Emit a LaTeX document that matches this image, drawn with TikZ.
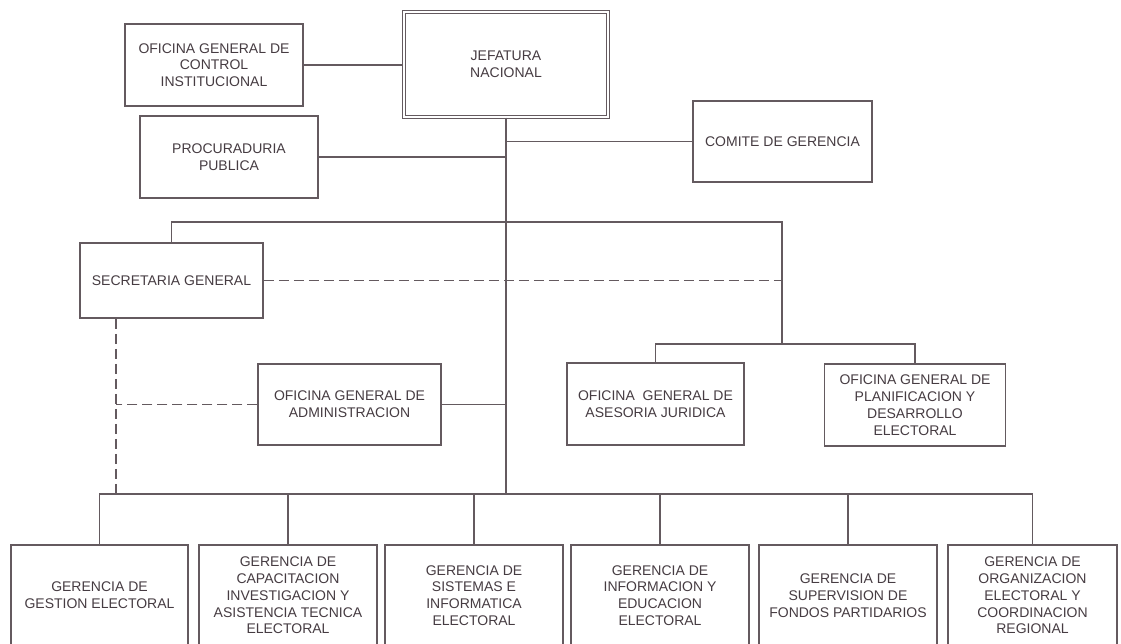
\documentclass[tikz,border=0pt]{standalone}
\usepackage{fontspec}
\setmainfont{Liberation Sans}
\definecolor{linec}{RGB}{100,90,95}
\definecolor{textc}{RGB}{70,60,66}
\begin{document}
\begin{tikzpicture}[x=1pt,y=-1pt,
  box/.style={draw=linec, line width=1.5pt, fill=white, align=center, inner sep=0pt,
    text=textc, font=\fontsize{14}{16.8}\selectfont},
  conn/.style={draw=linec, line width=1.5pt},
  dconn/.style={draw=linec, line width=1.5pt, dash pattern=on 10pt off 5pt}]
\useasboundingbox (0,0) rectangle (1121,644);
\clip (0,0) rectangle (1121,644);
\fill[white] (0,0) rectangle (1121,644);

% coordinates of bars
\coordinate (tR) at (782,222);
\coordinate (jn) at (782,344);
\coordinate (bb) at (506,494);
\coordinate (ds) at (116,318);

% top level
\node[box, minimum width=204pt, minimum height=105pt, double=white, double distance=2pt, line width=1.1pt] (jef) at (506,64.5) {JEFATURA\\NACIONAL};
\node[box, minimum width=178pt, minimum height=82pt] (ogci) at (214,65) {OFICINA GENERAL DE\\CONTROL\\INSTITUCIONAL};
\node[box, minimum width=178pt, minimum height=82pt] (proc) at (229,157) {PROCURADURIA\\PUBLICA};
\node[box, minimum width=179pt, minimum height=81pt] (com) at (782.5,141.5) {COMITE DE GERENCIA};

% middle level
\node[box, minimum width=183pt, minimum height=75pt] (sec) at (171.5,280.5) {SECRETARIA GENERAL};
\node[box, minimum width=183pt, minimum height=81pt] (oga) at (349.5,404.5) {OFICINA GENERAL DE\\ADMINISTRACION};
\node[box, minimum width=177pt, minimum height=82pt] (ogaj) at (655.5,404) {OFICINA\ \ GENERAL DE\\ASESORIA JURIDICA};
\node[box, minimum width=181pt, minimum height=82pt] (ogpde) at (915,405) {OFICINA GENERAL DE\\PLANIFICACION Y\\DESARROLLO\\ELECTORAL};

% bottom level
\node[box, minimum width=177pt, minimum height=101pt] (g1) at (99.5,595.5) {GERENCIA DE\\GESTION ELECTORAL};
\node[box, minimum width=178pt, minimum height=101pt] (g2) at (288,595.5) {GERENCIA DE\\CAPACITACION\\INVESTIGACION Y\\ASISTENCIA TECNICA\\ELECTORAL};
\node[box, minimum width=178pt, minimum height=101pt] (g3) at (474,595.5) {GERENCIA DE\\SISTEMAS E\\INFORMATICA\\ELECTORAL};
\node[box, minimum width=178pt, minimum height=101pt] (g4) at (660,595.5) {GERENCIA DE\\INFORMACION Y\\EDUCACION\\ELECTORAL};
\node[box, minimum width=178pt, minimum height=101pt] (g5) at (848,595.5) {GERENCIA DE\\SUPERVISION DE\\FONDOS PARTIDARIOS};
\node[box, minimum width=169pt, minimum height=101pt] (g6) at (1032.5,595.5) {GERENCIA DE\\ORGANIZACION\\ELECTORAL Y\\COORDINACION\\REGIONAL};

% solid connectors
\draw[conn] (ogci.east) -- (ogci.east -| jef.west);
\draw[conn] (jef.south) -- (bb);
\draw[conn] (proc.east) -- (proc.east -| jef.south);
\draw[conn] (com.west) -- (com.west -| jef.south);
\draw[conn] (sec.north) |- (tR) -- (jn);
\draw[conn] (ogaj.north) |- (jn);
\draw[conn] (ogpde.north) |- (jn);
\draw[conn] (oga.east) -- (oga.east -| jef.south);
\foreach \g in {g1,g2,g3,g4,g5,g6}{
  \draw[conn] (\g.north) |- (bb);
}

% dashed connectors
\draw[dconn] (sec.east) -- (sec.east -| tR);
\draw[dconn] (sec.south -| ds) -- (ds |- bb);
\draw[dconn] (oga.west) -- (oga.west -| ds);
\end{tikzpicture}
\end{document}
